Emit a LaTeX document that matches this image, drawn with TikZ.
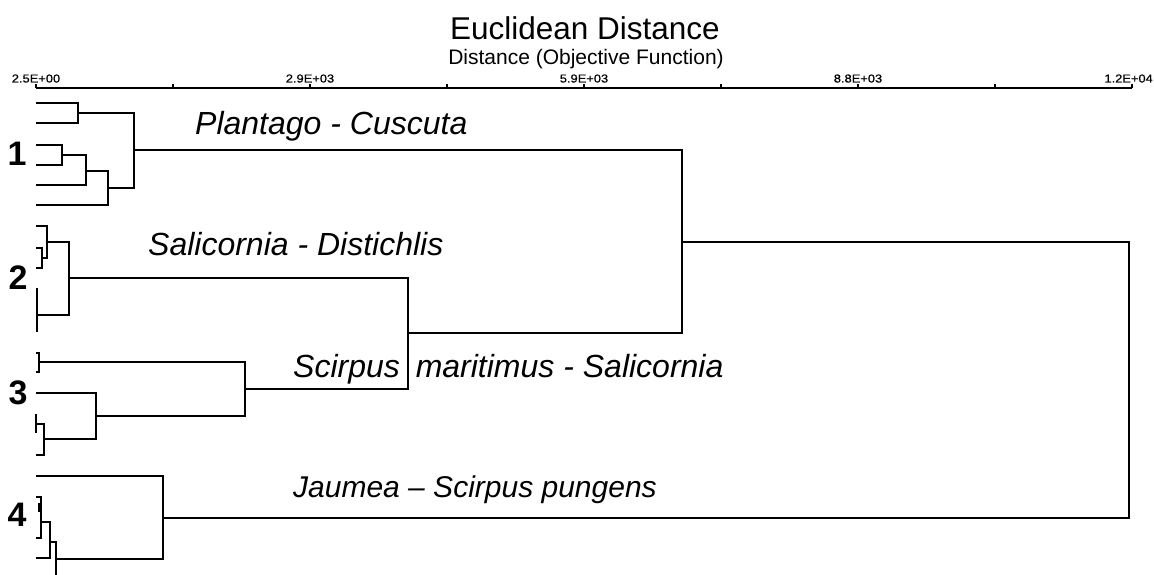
\documentclass[tikz,border=0pt]{standalone}
\usepackage{fontspec}
\setmainfont{Liberation Sans}
\newfontfamily\tickfont[FakeStretch=1.12,FakeBold=0.6]{Liberation Sans}
\newcommand\dmerge[3]{\draw[dendro] (#1) -| (#2) |- (#3);}
\begin{document}
\begin{tikzpicture}[x=1pt,y=-1pt,
  dendro/.style={draw=black,line width=1.6pt,line join=miter},
  axisline/.style={draw=black,line width=1.6pt},
  titletext/.style={inner sep=0pt,anchor=base,font=\fontsize{31.5}{36}\selectfont},
  subtext/.style={inner sep=0pt,anchor=base,font=\fontsize{21}{25}\selectfont},
  ticktext/.style={inner sep=0pt,anchor=base,font=\tickfont\fontsize{11.5}{13}\selectfont},
  grouplabel/.style={inner sep=0pt,anchor=base west,font=\itshape\fontsize{32}{36}\selectfont},
  groupnum/.style={inner sep=0pt,anchor=center,font=\bfseries\fontsize{34}{38}\selectfont}]
\useasboundingbox (0,0) rectangle (1154,575);
\fill[white] (0,0) rectangle (1154,575);

% titles
\node[titletext] (title) at (585,39.3) {Euclidean Distance};
\node[subtext] (subtitle) at (586,65) {Distance (Objective Function)};

% axis
\draw[axisline] (36,88) -- (1132,88);
\foreach \i in {0,...,8}{
  \draw[axisline,line width=1.2pt] ({36+137*\i},88) -- ++(0,-4);
}
\node[ticktext] (t0) at (36,82.5) {2.5E+00};
\node[ticktext] (t1) at (310,82.5) {2.9E+03};
\node[ticktext] (t2) at (584,82.5) {5.9E+03};
\node[ticktext] (t3) at (858,82.5) {8.8E+03};
\node[ticktext,anchor=base east] (t4) at (1153,82.5) {1.2E+04};

% cluster 1
\coordinate (L1a) at (36,103);
\coordinate (L1b) at (36,123);
\coordinate (L1c) at (36,145);
\coordinate (L1d) at (36,165);
\coordinate (L1e) at (36,185);
\coordinate (L1f) at (36,205);
\coordinate (J1ab) at (78,113);
\coordinate (J1cd) at (62,155);
\coordinate (J1cde) at (86,171);
\coordinate (J1cdef) at (108,188);
\coordinate (J1) at (134,150);
\dmerge{L1a}{J1ab}{L1b}
\dmerge{L1c}{J1cd}{L1d}
\dmerge{J1cd}{J1cde}{L1e}
\dmerge{J1cde}{J1cdef}{L1f}
\dmerge{J1ab}{J1}{J1cdef}

% cluster 2
\coordinate (L2a) at (36,226);
\coordinate (L2b) at (36,248);
\coordinate (L2c) at (36,268);
\coordinate (L2d) at (37,288);
\coordinate (L2e) at (37,332);
\coordinate (J2bc) at (42,258);
\coordinate (J2abc) at (47,242);
\coordinate (J2de) at (37,315);
\coordinate (J2) at (69,278);
\dmerge{L2b}{J2bc}{L2c}
\dmerge{L2a}{J2abc}{J2bc}
\draw[dendro] (L2d) -- (L2e);
\dmerge{J2abc}{J2}{J2de}

% cluster 3
\coordinate (L3a) at (36,353);
\coordinate (L3b) at (36,372);
\coordinate (L3c) at (36,393);
\coordinate (L3d) at (36,414);
\coordinate (L3e) at (36,433);
\coordinate (L3f) at (36,455);
\coordinate (J3ab) at (39,362);
\coordinate (J3de) at (36,424);
\coordinate (J3def) at (44,439);
\coordinate (J3cdef) at (96,416);
\coordinate (J3) at (245,389);
\dmerge{L3a}{J3ab}{L3b}
\draw[dendro] (L3d) -- (L3e);
\dmerge{J3de}{J3def}{L3f}
\dmerge{L3c}{J3cdef}{J3def}
\dmerge{J3ab}{J3}{J3cdef}

% cluster 4
\coordinate (L4a) at (36,476);
\coordinate (L4b) at (36,497);
\coordinate (L4c) at (36,538);
\coordinate (L4d) at (36,558);
\coordinate (L4e) at (56,575);
\coordinate (L4x) at (39.5,503);
\coordinate (L4y) at (39.5,512);
\coordinate (J4bc) at (41,522);
\coordinate (J4bcd) at (50,542);
\coordinate (J4bcde) at (56,559);
\coordinate (J4) at (163,518);
\dmerge{L4b}{J4bc}{L4c}
\draw[dendro,line width=2.4pt] (L4x) -- (L4y);
\dmerge{J4bc}{J4bcd}{L4d}
\dmerge{J4bcd}{J4bcde}{L4e}
\dmerge{L4a}{J4}{J4bcde}

% upper merges
\coordinate (J23) at (408,333);
\coordinate (J123) at (682,242);
\coordinate (Jroot) at (1129,380);
\dmerge{J2}{J23}{J3}
\dmerge{J1}{J123}{J23}
\dmerge{J123}{Jroot}{J4}

% group labels
\node[grouplabel] (g1) at (195,135) {Plantago - Cuscuta};
\node[grouplabel] (g2) at (148,255) {Salicornia - Distichlis};
\node[grouplabel] (g3) at (293,377) {Scirpus \hspace{7pt}maritimus - Salicornia};
\node[grouplabel,font=\itshape\fontsize{30}{34}\selectfont] (g4) at (293,497) {Jaumea – Scirpus pungens};

\node[groupnum] (n1) at (17,154) {1};
\node[groupnum] (n2) at (18,278) {2};
\node[groupnum] (n3) at (18,393) {3};
\node[groupnum] (n4) at (17,515) {4};
\end{tikzpicture}
\end{document}
